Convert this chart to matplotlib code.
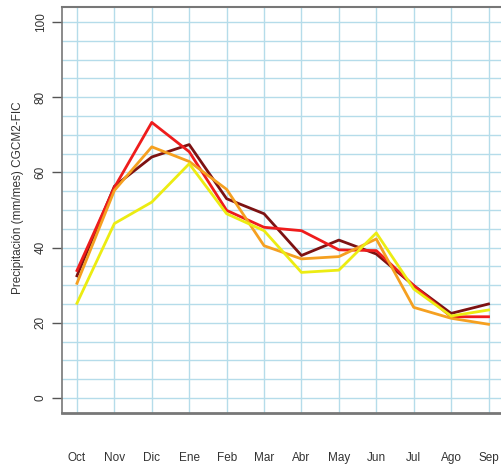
import matplotlib
matplotlib.use("Agg")
import matplotlib.pyplot as plt
import numpy as np

plt.rcParams['font.family'] = ['Liberation Sans', 'DejaVu Sans']

meses = ['Oct', 'Nov', 'Dic', 'Ene', 'Feb', 'Mar', 'Abr', 'May', 'Jun', 'Jul', 'Ago', 'Sep']

# series (mm/mes)
serie_oscura = [32.5, 56.3, 64.1, 67.4, 53.0, 49.0, 37.9, 42.0, 38.3, 29.9, 22.5, 25.0]
serie_roja = [33.9, 56.0, 73.3, 65.5, 49.9, 45.4, 44.5, 39.4, 39.2, 29.9, 21.6, 21.6]
serie_naranja = [30.5, 55.2, 66.8, 62.9, 55.5, 40.5, 37.0, 37.6, 42.3, 24.1, 21.2, 19.6]
serie_amarilla = [25.2, 46.4, 52.1, 62.3, 49.0, 44.5, 33.4, 34.0, 43.9, 29.0, 21.8, 23.4]

x = np.arange(1, len(meses) + 1)

fig = plt.figure(figsize=(5.02, 4.67), dpi=100)
ax = fig.add_axes([62 / 502, 1 - 413 / 467, 443 / 502, 406 / 467])

# cuadricula
for xv in x:
    ax.axvline(xv, color='#b5dcea', lw=1, zorder=1)
for yv in np.arange(0, 101, 5):
    ax.axhline(yv, color='#b5dcea', lw=1, zorder=1)

ax.plot(x, serie_oscura, color='#7d1212', lw=2, zorder=3)
ax.plot(x, serie_roja, color='#ee1c1c', lw=2, zorder=3)
ax.plot(x, serie_naranja, color='#f5a020', lw=2, zorder=3)
ax.plot(x, serie_amarilla, color='#ecec12', lw=2, zorder=3)

ax.set_xlim(0.6, 12.44)
ax.set_ylim(-4, 104)

ax.set_yticks([0, 20, 40, 60, 80, 100])
ax.set_yticklabels(['0', '20', '40', '60', '80', '100'], rotation=90, va='center')
ax.tick_params(axis='y', length=7, width=1, color='#555555', labelsize=8.5, labelcolor='#333333', pad=4)

ax.set_xticks(x)
ax.set_xticklabels(meses)
ax.tick_params(axis='x', length=0, labelsize=8.5, labelcolor='#333333', pad=28)

for s in ['left', 'top', 'bottom']:
    ax.spines[s].set_color('#777777')
ax.spines['left'].set_linewidth(1.2)
ax.spines['top'].set_linewidth(1.5)
ax.spines['bottom'].set_linewidth(2)
ax.spines['right'].set_visible(False)

fig.text(18 / 502, 1 - 198 / 467, 'Precipitación (mm/mes) CGCM2-FIC', rotation=90,
         ha='center', va='center', fontsize=8.5, color='#333333')

fig.savefig('out.png', dpi=100)
